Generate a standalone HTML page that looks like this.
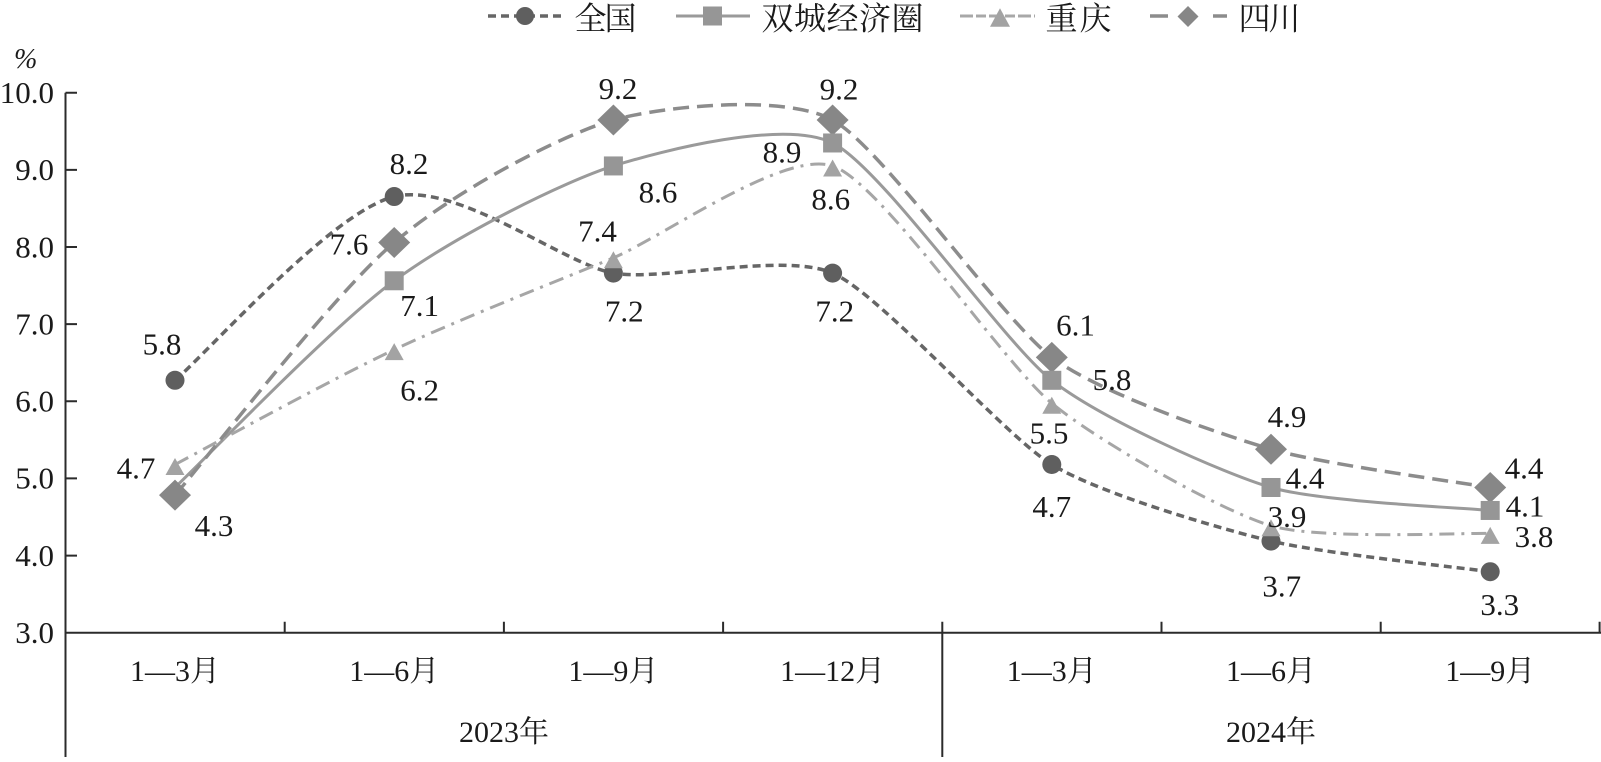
<!DOCTYPE html>
<html>
<head>
<meta charset="utf-8">
<style>
html,body{margin:0;padding:0;background:#fff;overflow:hidden;}
svg{display:block;}
.num{font-family:"Liberation Serif","Noto Serif CJK SC",serif;font-size:31px;fill:#1a1a1a;}
.cat{font-family:"Liberation Serif","Noto Serif CJK SC",serif;font-size:30px;fill:#1a1a1a;}
.leg{font-family:"Liberation Serif","Noto Serif CJK SC",serif;font-size:32px;fill:#1a1a1a;}
</style>
</head>
<body>
<svg width="1601" height="762" viewBox="0 0 1601 762" xmlns="http://www.w3.org/2000/svg">
<rect width="1601" height="762" fill="#fff"/>

<!-- Legend -->
<g>
  <line x1="488" y1="16" x2="563" y2="16" stroke="#666" stroke-width="3.5" stroke-dasharray="8 5"/>
  <circle cx="525" cy="16" r="9" fill="#5f5f5f"/>
  <text class="leg" x="574.5" y="29.5" textLength="62">全国</text>

  <line x1="676" y1="16" x2="750" y2="16" stroke="#9a9a9a" stroke-width="3"/>
  <rect x="703" y="6.5" width="19" height="19" fill="#969696"/>
  <text class="leg" x="761.5" y="29.5" textLength="162">双城经济圈</text>

  <line x1="960" y1="16" x2="1035" y2="16" stroke="#a8a8a8" stroke-width="3" stroke-dasharray="13 3 10 3"/>
  <polygon points="1000,8.3 990,26.7 1010,26.7" fill="#a3a3a3"/>
  <text class="leg" x="1045.5" y="29.5" textLength="66">重庆</text>

  <line x1="1150" y1="16" x2="1168" y2="16" stroke="#8c8c8c" stroke-width="3.5"/>
  <line x1="1213" y1="16" x2="1227" y2="16" stroke="#8c8c8c" stroke-width="3.5"/>
  <polygon points="1188,6 1198.5,16.5 1188,27 1177.5,16.5" fill="#878787"/>
  <text class="leg" x="1238.5" y="29.5" textLength="62">四川</text>
</g>

<!-- % label -->
<text x="14" y="68" style="font-family:'Liberation Serif',serif;font-style:italic;font-size:28px;fill:#1a1a1a;">%</text>

<!-- Axes -->
<g stroke="#2b2b2b" stroke-width="2" fill="none">
  <path d="M65.5 92.7 V757"/>
  <path d="M64.5 632.7 H1601"/>
  <path d="M65.5 92.7H77 M65.5 169.9H77 M65.5 247H77 M65.5 324.1H77 M65.5 401.3H77 M65.5 478.4H77 M65.5 555.6H77"/>
  <path d="M284.7 621.7V632.7 M503.9 621.7V632.7 M723.1 621.7V632.7 M1161.5 621.7V632.7 M1380.7 621.7V632.7 M1599.6 621.7V632.7"/>
  <path d="M942.3 621.7 V757"/>
</g>

<!-- Y tick labels -->
<g class="num" text-anchor="end">
  <text x="54" y="103">10.0</text>
  <text x="54" y="180.2">9.0</text>
  <text x="54" y="257.3">8.0</text>
  <text x="54" y="334.4">7.0</text>
  <text x="54" y="411.6">6.0</text>
  <text x="54" y="488.7">5.0</text>
  <text x="54" y="565.9">4.0</text>
  <text x="54" y="643">3.0</text>
</g>

<!-- X category labels -->
<g class="cat" text-anchor="middle">
  <text x="175" y="681">1—3月</text>
  <text x="394.2" y="681">1—6月</text>
  <text x="613.4" y="681">1—9月</text>
  <text x="832.6" y="681">1—12月</text>
  <text x="1051.8" y="681">1—3月</text>
  <text x="1271" y="681">1—6月</text>
  <text x="1490.2" y="681">1—9月</text>
  <text x="504" y="742">2023年</text>
  <text x="1271" y="742">2024年</text>
</g>

<!-- Series lines -->
<g fill="none" stroke-linecap="butt">
  <path d="M175,380.3 C206.31,354.05 331.57,211.87 394.2,196.56 C456.83,181.25 564.69,264.61 613.4,273.12 C662.11,281.63 783.89,251.85 832.6,273.12 C881.31,294.39 1003.09,434.75 1051.8,464.52 C1100.51,494.29 1222.29,529.17 1271,541.08 C1319.71,552.99 1465.84,568.3 1490.2,571.7" stroke="#666" stroke-width="3.5" stroke-dasharray="8 5"/>
  <path d="M175,487.49 C206.31,457.96 331.57,326.72 394.2,280.78 C456.83,234.84 564.69,181.25 613.4,165.94 C662.11,150.63 783.89,119.15 832.6,142.97 C881.31,166.79 1003.09,342.02 1051.8,380.3 C1100.51,418.58 1222.29,473.03 1271,487.49 C1319.71,501.95 1465.84,507.91 1490.2,510.46" stroke="#9a9a9a" stroke-width="3"/>
  <path d="M175,464.52 C206.31,448.11 331.57,379.21 394.2,349.68 C456.83,320.15 564.69,278.23 613.4,257.81 C662.11,237.39 783.89,149.78 832.6,165.94 C881.31,182.1 1003.09,363.29 1051.8,403.27 C1100.51,443.25 1222.29,511.31 1271,525.77 C1319.71,540.23 1465.84,532.57 1490.2,533.42" stroke="#a6a6a6" stroke-width="3" stroke-dasharray="15 7 3 7"/>
  <path d="M175,495.14 C206.31,459.05 331.57,296.09 394.2,242.5 C456.83,188.91 564.69,133.61 613.4,120 C662.11,106.39 783.89,93.63 832.6,120 C881.31,146.37 1003.09,320.76 1051.8,357.34 C1100.51,393.92 1222.29,434.75 1271,449.21 C1319.71,463.67 1465.84,483.24 1490.2,487.49" stroke="#8c8c8c" stroke-width="3.5" stroke-dasharray="16 8"/>
</g>

<!-- Markers: circles -->
<g fill="#5f5f5f">
  <circle cx="175" cy="380.3" r="9.5"/>
  <circle cx="394.2" cy="196.56" r="9.5"/>
  <circle cx="613.4" cy="273.12" r="9.5"/>
  <circle cx="832.6" cy="273.12" r="9.5"/>
  <circle cx="1051.8" cy="464.52" r="9.5"/>
  <circle cx="1271" cy="541.08" r="9.5"/>
  <circle cx="1490.2" cy="571.7" r="9.5"/>
</g>
<!-- Markers: diamonds -->
<g fill="#878787">
  <polygon points="175,479.64 191,495.14 175,510.64 159,495.14"/>
  <polygon points="394.2,227 410.2,242.5 394.2,258 378.2,242.5"/>
  <polygon points="613.4,104.5 629.4,120 613.4,135.5 597.4,120"/>
  <polygon points="832.6,104.5 848.6,120 832.6,135.5 816.6,120"/>
  <polygon points="1051.8,341.84 1067.8,357.34 1051.8,372.84 1035.8,357.34"/>
  <polygon points="1271,433.71 1287,449.21 1271,464.71 1255,449.21"/>
  <polygon points="1490.2,471.99 1506.2,487.49 1490.2,502.99 1474.2,487.49"/>
</g>
<!-- Markers: squares -->
<g fill="#969696">
  <rect x="384.7" y="271.28" width="19" height="19"/>
  <rect x="603.9" y="156.44" width="19" height="19"/>
  <rect x="823.1" y="133.47" width="19" height="19"/>
  <rect x="1042.3" y="370.8" width="19" height="19"/>
  <rect x="1261.5" y="477.99" width="19" height="19"/>
  <rect x="1480.7" y="500.96" width="19" height="19"/>
</g>
<!-- Markers: triangles -->
<g fill="#a3a3a3">
  <polygon points="175,458.02 165.5,475.02 184.5,475.02"/>
  <polygon points="394.2,343.18 384.7,360.18 403.7,360.18"/>
  <polygon points="613.4,251.31 603.9,268.31 622.9,268.31"/>
  <polygon points="832.6,159.44 823.1,176.44 842.1,176.44"/>
  <polygon points="1051.8,396.77 1042.3,413.77 1061.3,413.77"/>
  <polygon points="1271,519.27 1261.5,536.27 1280.5,536.27"/>
  <polygon points="1490.2,526.92 1480.7,543.92 1499.7,543.92"/>
</g>

<!-- Data labels -->
<g class="num" text-anchor="middle">
  <text x="162" y="354.3">5.8</text>
  <text x="136" y="478.3">4.7</text>
  <text x="214" y="535.8">4.3</text>

  <text x="409" y="174">8.2</text>
  <text x="349" y="254.3">7.6</text>
  <text x="419.6" y="316.1">7.1</text>
  <text x="419.6" y="400.3">6.2</text>

  <text x="618" y="98.8">9.2</text>
  <text x="658" y="202.3">8.6</text>
  <text x="597.5" y="241.3">7.4</text>
  <text x="624.3" y="321.3">7.2</text>

  <text x="839" y="99.3">9.2</text>
  <text x="782" y="162.3">8.9</text>
  <text x="830.7" y="209.3">8.6</text>
  <text x="834.7" y="321.3">7.2</text>

  <text x="1075.5" y="335.3">6.1</text>
  <text x="1112" y="390">5.8</text>
  <text x="1049" y="443.3">5.5</text>
  <text x="1051.7" y="517">4.7</text>

  <text x="1287" y="427">4.9</text>
  <text x="1305" y="488.3">4.4</text>
  <text x="1287" y="527">3.9</text>
  <text x="1281.7" y="596.3">3.7</text>

  <text x="1524" y="478.3">4.4</text>
  <text x="1525" y="516.3">4.1</text>
  <text x="1534" y="547">3.8</text>
  <text x="1499.7" y="615">3.3</text>
</g>
</svg>
</body>
</html>
